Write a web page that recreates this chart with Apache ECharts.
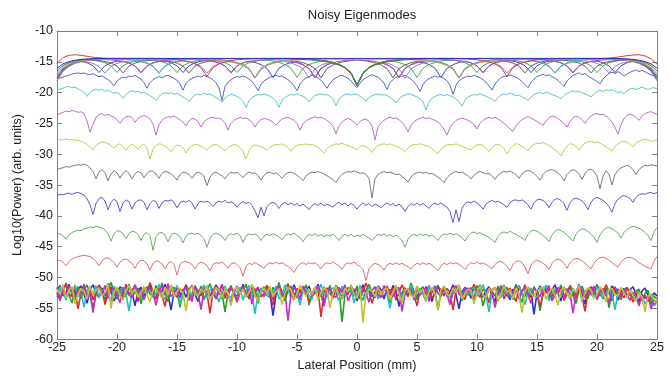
<!DOCTYPE html>
<html><head><meta charset="utf-8">
<script src="https://cdn.jsdelivr.net/npm/echarts@6/dist/echarts.min.js"></script>
<style>html,body{margin:0;padding:0;background:#fff}#c{width:669px;height:377px}</style>
</head><body><div id="c"></div>
<script>
// sampling positions (mm)
const xs=[-25,-24.75,-24.5,-24.25,-24,-23.75,-23.5,-23.25,-23,-22.75,
-22.5,-22.25,-22,-21.75,-21.5,-21.25,-21,-20.75,-20.5,-20.25,
-20,-19.75,-19.5,-19.25,-19,-18.75,-18.5,-18.25,-18,-17.75,
-17.5,-17.25,-17,-16.75,-16.5,-16.25,-16,-15.75,-15.5,-15.25,
-15,-14.75,-14.5,-14.25,-14,-13.75,-13.5,-13.25,-13,-12.75,
-12.5,-12.25,-12,-11.75,-11.5,-11.25,-11,-10.75,-10.5,-10.25,
-10,-9.75,-9.5,-9.25,-9,-8.75,-8.5,-8.25,-8,-7.75,
-7.5,-7.25,-7,-6.75,-6.5,-6.25,-6,-5.75,-5.5,-5.25,
-5,-4.75,-4.5,-4.25,-4,-3.75,-3.5,-3.25,-3,-2.75,
-2.5,-2.25,-2,-1.75,-1.5,-1.25,-1,-0.75,-0.5,-0.25,
0,0.25,0.5,0.75,1,1.25,1.5,1.75,2,2.25,
2.5,2.75,3,3.25,3.5,3.75,4,4.25,4.5,4.75,
5,5.25,5.5,5.75,6,6.25,6.5,6.75,7,7.25,
7.5,7.75,8,8.25,8.5,8.75,9,9.25,9.5,9.75,
10,10.25,10.5,10.75,11,11.25,11.5,11.75,12,12.25,
12.5,12.75,13,13.25,13.5,13.75,14,14.25,14.5,14.75,
15,15.25,15.5,15.75,16,16.25,16.5,16.75,17,17.25,
17.5,17.75,18,18.25,18.5,18.75,19,19.25,19.5,19.75,
20,20.25,20.5,20.75,21,21.25,21.5,21.75,22,22.25,
22.5,22.75,23,23.25,23.5,23.75,24,24.25,24.5,24.75,
25];
const xc=[-25,-24.5,-24,-23.5,-23,-22.5,-22,-21.5,-21,-20.5,
-20,-19.5,-19,-18.5,-18,-17.5,-17,-16.5,-16,-15.5,
-15,-14.5,-14,-13.5,-13,-12.5,-12,-11.5,-11,-10.5,
-10,-9.5,-9,-8.5,-8,-7.5,-7,-6.5,-6,-5.5,
-5,-4.5,-4,-3.5,-3,-2.5,-2,-1.5,-1,-0.5,
0,0.5,1,1.5,2,2.5,3,3.5,4,4.5,
5,5.5,6,6.5,7,7.5,8,8.5,9,9.5,
10,10.5,11,11.5,12,12.5,13,13.5,14,14.5,
15,15.5,16,16.5,17,17.5,18,18.5,19,19.5,
20,20.5,21,21.5,22,22.5,23,23.5,24,24.5,
25];

// upper group of modes (all near -14.5)
const topA=[-16.05,-15.33,-14.96,-14.74,-14.61,-14.53,-14.48,-14.45,-14.45,-14.45,
-14.45,-14.45,-14.45,-14.45,-14.45,-14.45,-14.45,-14.45,-14.45,-14.45,
-14.45,-14.45,-14.45,-14.45,-14.45,-14.45,-14.45,-14.45,-14.45,-14.45,
-14.45,-14.45,-14.45,-14.45,-14.45,-14.45,-14.45,-14.45,-14.45,-14.45,
-14.45,-14.45,-14.45,-14.45,-14.45,-14.45,-14.45,-14.45,-14.45,-14.45,
-14.45,-14.45,-14.45,-14.45,-14.45,-14.45,-14.45,-14.45,-14.45,-14.45,
-14.45,-14.45,-14.45,-14.45,-14.45,-14.45,-14.45,-14.45,-14.45,-14.45,
-14.45,-14.45,-14.45,-14.45,-14.45,-14.45,-14.45,-14.45,-14.45,-14.45,
-14.45,-14.45,-14.45,-14.45,-14.45,-14.45,-14.45,-14.45,-14.45,-14.45,
-14.45,-14.45,-14.45,-14.45,-14.48,-14.53,-14.61,-14.74,-14.96,-15.33,
-16.05];
const topB=[-16.5,-15.6,-15.14,-14.86,-14.7,-14.6,-14.54,-14.5,-14.5,-14.5,
-14.5,-14.5,-14.5,-14.5,-14.5,-14.5,-14.5,-14.5,-14.5,-14.5,
-14.5,-14.5,-14.5,-14.5,-14.5,-14.5,-14.5,-14.5,-14.5,-14.5,
-14.5,-14.5,-14.5,-14.5,-14.5,-14.5,-14.51,-14.52,-14.53,-14.55,
-14.58,-14.62,-14.68,-14.76,-14.86,-15.0,-15.2,-15.5,-16.0,-16.9,
-18.9,-16.9,-16.0,-15.5,-15.2,-15.0,-14.86,-14.76,-14.68,-14.62,
-14.58,-14.55,-14.53,-14.52,-14.51,-14.5,-14.5,-14.5,-14.5,-14.5,
-14.5,-14.5,-14.5,-14.5,-14.5,-14.5,-14.5,-14.5,-14.5,-14.5,
-14.5,-14.5,-14.5,-14.5,-14.5,-14.5,-14.5,-14.5,-14.5,-14.5,
-14.5,-14.5,-14.5,-14.5,-14.54,-14.6,-14.7,-14.86,-15.14,-15.6,
-16.5];
const topC=[-16.9,-15.87,-15.34,-15.01,-14.83,-14.72,-14.65,-14.6,-14.6,-14.6,
-14.6,-14.6,-14.6,-14.6,-14.6,-14.6,-14.6,-14.6,-14.6,-14.6,
-14.6,-14.6,-14.6,-14.6,-14.63,-14.66,-14.71,-14.78,-14.88,-15.02,
-15.25,-15.6,-16.2,-17.6,-16.2,-15.6,-15.25,-15.02,-14.88,-14.78,
-14.71,-14.66,-14.63,-14.6,-14.6,-14.6,-14.6,-14.6,-14.6,-14.6,
-14.6,-14.6,-14.6,-14.6,-14.6,-14.6,-14.6,-14.6,-14.63,-14.66,
-14.71,-14.78,-14.88,-15.02,-15.25,-15.6,-16.2,-17.6,-16.2,-15.6,
-15.25,-15.02,-14.88,-14.78,-14.71,-14.66,-14.63,-14.6,-14.6,-14.6,
-14.6,-14.6,-14.6,-14.6,-14.6,-14.6,-14.6,-14.6,-14.6,-14.6,
-14.6,-14.6,-14.6,-14.6,-14.65,-14.72,-14.83,-15.01,-15.34,-15.87,
-16.9];
const topD=[-15.3,-14.3,-13.95,-13.85,-13.95,-14.1,-14.25,-14.35,-14.42,-14.45,
-14.45,-14.45,-14.45,-14.45,-14.45,-14.45,-14.45,-14.48,-14.52,-14.58,
-14.67,-14.81,-15.03,-15.35,-15.95,-17.35,-15.95,-15.35,-15.03,-14.81,
-14.67,-14.58,-14.52,-14.48,-14.45,-14.45,-14.45,-14.45,-14.45,-14.45,
-14.47,-14.5,-14.55,-14.63,-14.74,-14.89,-15.11,-15.45,-15.95,-16.85,
-18.8,-16.85,-15.95,-15.45,-15.11,-14.89,-14.74,-14.63,-14.55,-14.5,
-14.47,-14.45,-14.45,-14.45,-14.45,-14.45,-14.45,-14.48,-14.52,-14.58,
-14.67,-14.81,-15.03,-15.35,-15.95,-17.35,-15.95,-15.35,-15.03,-14.81,
-14.67,-14.58,-14.52,-14.48,-14.45,-14.45,-14.45,-14.45,-14.45,-14.45,
-14.45,-14.45,-14.4,-14.3,-14.15,-14.0,-13.9,-13.85,-14.05,-14.5,
-15.4];
const topE=[-17.15,-15.98,-15.38,-15.02,-14.81,-14.68,-14.6,-14.55,-14.55,-14.55,
-14.55,-14.6,-14.65,-14.75,-14.9,-15.15,-15.65,-16.75,-15.65,-15.15,
-14.9,-14.75,-14.65,-14.6,-14.55,-14.55,-14.6,-14.66,-14.75,-14.88,
-15.1,-15.45,-16.05,-17.55,-16.05,-15.45,-15.1,-14.88,-14.75,-14.66,
-14.6,-14.58,-14.61,-14.67,-14.75,-14.88,-15.07,-15.4,-15.9,-16.75,
-18.75,-16.75,-15.9,-15.4,-15.07,-14.88,-14.75,-14.67,-14.61,-14.58,
-14.6,-14.66,-14.75,-14.88,-15.1,-15.45,-16.05,-17.55,-16.05,-15.45,
-15.1,-14.88,-14.75,-14.66,-14.6,-14.55,-14.55,-14.6,-14.65,-14.75,
-14.9,-15.15,-15.65,-16.75,-15.65,-15.15,-14.9,-14.75,-14.65,-14.6,
-14.55,-14.55,-14.55,-14.55,-14.6,-14.68,-14.81,-15.02,-15.38,-15.98,
-17.15];
const topF=[-17.4,-16.14,-15.5,-15.1,-14.88,-14.74,-14.66,-14.62,-14.65,-14.7,
-14.8,-14.95,-15.2,-15.7,-16.8,-15.7,-15.2,-14.95,-14.8,-14.7,
-14.65,-14.6,-14.6,-14.65,-14.7,-14.8,-14.95,-15.2,-15.7,-16.8,
-15.7,-15.2,-14.95,-14.8,-14.7,-14.65,-14.65,-14.71,-14.8,-14.93,
-15.15,-15.5,-16.1,-17.6,-16.1,-15.5,-15.15,-14.93,-14.8,-14.71,
-14.65,-14.71,-14.8,-14.93,-15.15,-15.5,-16.1,-17.6,-16.1,-15.5,
-15.15,-14.93,-14.8,-14.71,-14.65,-14.65,-14.7,-14.8,-14.95,-15.2,
-15.7,-16.8,-15.7,-15.2,-14.95,-14.8,-14.7,-14.65,-14.6,-14.6,
-14.65,-14.7,-14.8,-14.95,-15.2,-15.7,-16.8,-15.7,-15.2,-14.95,
-14.8,-14.7,-14.65,-14.62,-14.66,-14.74,-14.88,-15.1,-15.5,-16.14,
-17.4];
const topG=[-17.6,-16.25,-15.56,-15.14,-14.9,-14.75,-14.7,-14.8,-14.95,-15.2,
-15.7,-16.8,-15.7,-15.2,-14.95,-14.8,-14.7,-14.7,-14.8,-14.95,
-15.2,-15.7,-16.8,-15.7,-15.2,-14.95,-14.8,-14.71,-14.8,-14.93,
-15.15,-15.5,-16.1,-17.6,-16.1,-15.5,-15.15,-14.93,-14.8,-14.8,
-14.93,-15.15,-15.5,-16.1,-17.6,-16.1,-15.5,-15.15,-14.93,-14.8,
-14.71,-14.8,-14.93,-15.15,-15.5,-16.1,-17.6,-16.1,-15.5,-15.15,
-14.93,-14.8,-14.8,-14.93,-15.15,-15.5,-16.1,-17.6,-16.1,-15.5,
-15.15,-14.93,-14.8,-14.71,-14.8,-14.95,-15.2,-15.7,-16.8,-15.7,
-15.2,-14.95,-14.8,-14.7,-14.7,-14.8,-14.95,-15.2,-15.7,-16.8,
-15.7,-15.2,-14.95,-14.8,-14.7,-14.75,-14.9,-15.14,-15.56,-16.25,
-17.6];
const topH=[-17.75,-16.31,-15.57,-15.13,-14.87,-14.71,-14.75,-14.9,-15.15,-15.65,
-16.75,-15.65,-15.15,-14.9,-14.75,-14.65,-14.75,-14.9,-15.15,-15.65,
-16.75,-15.65,-15.15,-14.9,-14.75,-14.65,-14.75,-14.9,-15.15,-15.65,
-16.75,-15.65,-15.15,-14.9,-14.75,-14.75,-14.88,-15.1,-15.45,-16.05,
-17.55,-16.05,-15.45,-15.1,-14.88,-14.88,-15.07,-15.4,-15.9,-16.75,
-18.75,-16.75,-15.9,-15.4,-15.07,-14.88,-14.88,-15.1,-15.45,-16.05,
-17.55,-16.05,-15.45,-15.1,-14.88,-14.75,-14.75,-14.9,-15.15,-15.65,
-16.75,-15.65,-15.15,-14.9,-14.75,-14.65,-14.75,-14.9,-15.15,-15.65,
-16.75,-15.65,-15.15,-14.9,-14.75,-14.65,-14.75,-14.9,-15.15,-15.65,
-16.75,-15.65,-15.15,-14.9,-14.75,-14.71,-14.87,-15.13,-15.57,-16.31,
-17.75];
const topI=[-18.05,-16.52,-15.74,-15.26,-14.99,-15.0,-15.25,-15.75,-16.85,-15.75,
-15.25,-15.0,-14.85,-14.85,-15.0,-15.25,-15.75,-16.85,-15.75,-15.25,
-15.0,-14.85,-15.0,-15.25,-15.75,-16.85,-15.75,-15.25,-15.0,-14.98,
-15.2,-15.55,-16.15,-17.65,-16.15,-15.55,-15.2,-14.98,-14.98,-15.2,
-15.55,-16.15,-17.65,-16.15,-15.55,-15.2,-15.17,-15.5,-16.0,-16.85,
-18.85,-16.85,-16.0,-15.5,-15.17,-15.2,-15.55,-16.15,-17.65,-16.15,
-15.55,-15.2,-14.98,-14.98,-15.2,-15.55,-16.15,-17.65,-16.15,-15.55,
-15.2,-14.98,-15.0,-15.25,-15.75,-16.85,-15.75,-15.25,-15.0,-14.85,
-15.0,-15.25,-15.75,-16.85,-15.75,-15.25,-15.0,-14.85,-14.85,-15.0,
-15.25,-15.75,-16.85,-15.75,-15.25,-15.0,-14.99,-15.26,-15.74,-16.52,
-18.05];
const topJ=[-18.05,-16.48,-15.67,-15.18,-14.9,-15.15,-15.65,-16.75,-15.65,-15.15,
-14.9,-14.9,-15.15,-15.65,-16.75,-15.65,-15.15,-14.9,-14.9,-15.15,
-15.65,-16.75,-15.65,-15.15,-14.9,-14.75,-14.9,-15.15,-15.65,-16.75,
-15.65,-15.15,-14.9,-15.1,-15.45,-16.05,-17.55,-16.05,-15.45,-15.1,
-15.1,-15.45,-16.05,-17.55,-16.05,-15.45,-15.1,-15.4,-15.9,-16.75,
-18.75,-16.75,-15.9,-15.4,-15.1,-15.45,-16.05,-17.55,-16.05,-15.45,
-15.1,-15.1,-15.45,-16.05,-17.55,-16.05,-15.45,-15.1,-14.9,-15.15,
-15.65,-16.75,-15.65,-15.15,-14.9,-14.75,-14.9,-15.15,-15.65,-16.75,
-15.65,-15.15,-14.9,-14.9,-15.15,-15.65,-16.75,-15.65,-15.15,-14.9,
-14.9,-15.15,-15.65,-16.75,-15.65,-15.15,-14.9,-15.18,-15.67,-16.48,
-18.05];

// separated higher-order modes
const modeD=[-17.8,-17.6,-17.5,-17.3,-17.2,-17.0,-16.9,-16.8,-16.9,-16.8,
-17.0,-17.1,-16.9,-17.2,-17.4,-17.3,-17.6,-17.9,-18.3,-18.9,
-18.1,-17.7,-17.5,-17.6,-17.3,-17.4,-17.2,-17.5,-17.8,-18.4,
-19.3,-18.4,-17.9,-17.6,-17.4,-17.6,-17.3,-17.2,-17.4,-17.7,
-18.0,-18.6,-19.6,-18.5,-18.0,-17.7,-17.5,-17.3,-17.5,-17.2,
-17.4,-17.6,-17.9,-18.4,-19.2,-21.3,-19.0,-18.3,-17.9,-17.6,
-17.4,-17.5,-17.3,-17.5,-17.8,-18.2,-18.8,-19.7,-18.7,-18.1,
-17.8,-17.5,-17.4,-17.2,-17.4,-17.3,-17.6,-17.9,-18.3,-18.9,
-19.7,-18.6,-18.0,-17.6,-17.4,-17.2,-17.3,-17.6,-18.0,-18.6,
-19.3,-18.5,-17.9,-17.6,-17.3,-17.2,-17.4,-17.7,-18.1,-18.7,
-19.2,-18.5,-17.9,-17.6,-17.3,-17.1,-17.3,-17.5,-17.9,-18.5,
-19.5,-18.4,-17.9,-17.5,-17.3,-17.4,-17.2,-17.5,-17.8,-18.3,
-18.9,-19.8,-18.7,-18.1,-17.7,-17.5,-17.3,-17.5,-17.4,-17.7,
-18.1,-18.8,-20.3,-18.8,-18.1,-17.7,-17.5,-17.3,-17.4,-17.2,
-17.4,-17.6,-17.9,-18.3,-18.9,-19.6,-18.6,-18.0,-17.6,-17.3,
-17.4,-17.1,-17.3,-17.5,-17.8,-18.2,-18.7,-19.2,-18.3,-17.8,
-17.4,-17.2,-17.0,-17.3,-17.1,-17.4,-17.7,-18.0,-18.5,-19.0,
-18.1,-17.6,-17.2,-17.0,-16.8,-17.1,-16.9,-17.3,-17.6,-17.9,
-18.2,-18.6,-17.8,-17.3,-16.9,-16.7,-16.9,-16.6,-16.9,-17.3,
-17.0,-16.7,-16.5,-16.3,-16.6,-16.4,-16.6,-16.9,-17.1,-17.3,
-17.5];
const modeC=[-19.6,-19.4,-19.3,-19.1,-19.0,-19.2,-19.1,-19.4,-19.6,-19.9,
-20.6,-20.0,-19.6,-19.4,-19.6,-19.5,-19.8,-19.6,-19.9,-20.1,
-20.0,-20.3,-20.9,-20.3,-19.9,-19.7,-19.9,-19.8,-20.1,-19.9,
-20.2,-20.5,-20.8,-21.3,-20.6,-20.2,-20.0,-20.2,-20.0,-20.3,
-20.1,-20.4,-20.7,-21.0,-21.5,-20.8,-20.4,-20.2,-20.4,-20.1,
-20.3,-20.2,-20.5,-20.8,-21.1,-21.6,-20.9,-20.5,-20.3,-20.4,
-20.6,-20.9,-21.4,-22.4,-21.3,-20.8,-20.5,-20.3,-20.4,-20.2,
-20.4,-20.6,-20.9,-21.4,-22.4,-21.2,-20.8,-20.5,-20.3,-20.4,
-20.2,-20.4,-20.6,-20.9,-21.5,-20.9,-20.5,-20.3,-20.2,-20.4,
-20.3,-20.6,-21.0,-22.1,-21.0,-20.6,-20.3,-20.2,-20.4,-20.2,
-20.3,-20.6,-20.9,-21.4,-20.8,-20.5,-20.3,-20.2,-20.4,-20.3,
-20.5,-20.8,-21.1,-21.7,-21.0,-20.6,-20.4,-20.2,-20.3,-20.5,
-20.7,-21.0,-21.5,-22.8,-21.5,-20.9,-20.6,-20.4,-20.3,-20.5,
-20.3,-20.5,-20.7,-21.0,-21.5,-22.2,-21.2,-20.7,-20.5,-20.3,
-20.4,-20.2,-20.4,-20.6,-20.8,-21.1,-21.4,-20.8,-20.4,-20.2,
-20.3,-20.1,-20.3,-20.5,-20.4,-20.7,-20.9,-21.3,-20.7,-20.3,
-20.1,-20.0,-20.2,-19.9,-20.1,-20.3,-20.5,-20.7,-21.0,-20.5,
-20.1,-19.9,-19.7,-19.9,-19.8,-20.0,-20.2,-20.4,-20.7,-20.2,
-19.8,-19.6,-19.8,-19.5,-19.7,-19.5,-19.8,-20.0,-19.8,-20.2,
-19.7,-19.4,-19.3,-19.5,-19.3,-19.1,-19.3,-19.5,-19.3,-19.2,
-19.4];
const modeM=[-23.6,-23.4,-23.2,-23.0,-23.1,-22.9,-23.0,-23.2,-23.1,-23.4,
-24.6,-26.4,-25.2,-24.0,-23.6,-23.4,-23.7,-23.5,-23.8,-24.0,
-24.4,-25.0,-24.3,-23.9,-23.8,-24.1,-24.8,-24.2,-23.9,-23.7,
-23.9,-24.3,-25.1,-26.9,-25.2,-24.5,-24.1,-23.9,-24.0,-23.8,
-24.1,-24.4,-24.8,-25.4,-24.6,-24.2,-24.3,-24.7,-25.6,-24.7,
-24.3,-24.1,-24.0,-24.2,-24.1,-24.4,-24.9,-26.1,-25.0,-24.5,
-24.2,-24.0,-24.2,-24.1,-24.4,-24.8,-25.6,-24.8,-24.4,-24.2,
-24.3,-24.5,-24.8,-25.3,-24.7,-24.3,-24.1,-24.0,-24.2,-24.5,
-25.0,-26.1,-25.1,-24.6,-24.3,-24.1,-23.9,-24.1,-24.0,-24.2,
-24.5,-24.9,-25.5,-26.7,-25.4,-24.8,-24.4,-24.2,-24.4,-24.8,
-25.3,-24.7,-24.4,-24.3,-24.7,-25.4,-27.7,-25.6,-24.9,-24.5,
-24.2,-24.0,-24.2,-24.1,-24.4,-24.8,-25.4,-26.4,-25.3,-24.7,
-24.4,-24.2,-24.0,-24.2,-24.1,-24.3,-24.5,-24.8,-25.3,-25.9,
-26.9,-25.7,-25.0,-24.5,-24.3,-24.1,-24.3,-24.5,-24.8,-25.2,
-25.9,-25.0,-24.5,-24.2,-24.0,-24.2,-24.0,-24.3,-24.6,-25.0,
-25.4,-25.9,-26.3,-25.4,-24.8,-24.4,-24.1,-23.9,-24.1,-24.4,
-24.7,-25.0,-25.3,-24.6,-24.1,-23.8,-23.9,-24.2,-24.6,-25.0,
-25.6,-24.7,-24.1,-23.8,-24.0,-24.4,-25.0,-24.3,-23.8,-23.5,
-23.4,-23.6,-23.5,-23.8,-24.2,-24.8,-25.6,-26.7,-25.2,-24.2,
-23.7,-23.5,-23.7,-24.0,-24.5,-23.8,-23.4,-23.2,-23.1,-23.3,
-23.5];
const modeY=[-27.8,-27.6,-27.7,-27.5,-27.7,-27.6,-27.8,-27.7,-27.9,-28.1,
-28.4,-28.8,-29.3,-28.6,-28.2,-28.0,-28.1,-28.3,-28.6,-29.0,
-28.5,-28.3,-28.7,-29.4,-28.7,-28.4,-28.7,-29.2,-28.6,-28.4,
-29.0,-30.8,-29.2,-28.6,-28.3,-28.4,-28.7,-29.0,-29.6,-28.9,
-28.5,-28.6,-29.0,-29.8,-29.0,-28.6,-28.4,-28.5,-28.7,-29.0,
-29.3,-28.8,-28.5,-28.4,-28.7,-29.0,-29.5,-28.9,-28.6,-28.4,
-28.6,-28.9,-29.5,-30.8,-29.4,-28.8,-28.5,-28.6,-28.8,-29.0,
-29.4,-28.9,-28.6,-28.4,-28.5,-28.3,-28.6,-28.9,-29.5,-28.9,
-28.6,-28.4,-28.5,-28.3,-28.5,-28.4,-28.6,-28.9,-29.3,-29.8,
-29.1,-28.7,-28.5,-28.3,-28.4,-28.2,-28.4,-28.6,-28.8,-29.0,
-29.3,-28.8,-28.6,-28.8,-29.1,-29.7,-29.0,-28.6,-28.4,-28.3,
-28.5,-28.3,-28.5,-28.7,-28.9,-29.2,-29.6,-29.0,-28.6,-28.4,
-28.5,-28.3,-28.4,-28.6,-28.8,-29.1,-29.5,-29.9,-29.2,-28.8,
-28.5,-28.4,-28.5,-28.3,-28.5,-28.7,-28.9,-29.1,-29.3,-28.8,
-28.5,-28.4,-28.6,-29.0,-29.6,-28.9,-28.5,-28.4,-28.6,-29.1,
-29.9,-29.1,-28.6,-28.3,-28.4,-28.7,-29.0,-29.5,-28.8,-28.4,
-28.2,-28.3,-28.1,-28.3,-28.6,-28.9,-29.3,-29.7,-30.3,-29.3,
-28.7,-28.3,-28.4,-28.7,-29.3,-28.6,-28.2,-28.0,-27.9,-28.1,
-28.0,-28.2,-28.5,-28.8,-29.1,-29.5,-28.8,-28.3,-28.0,-27.9,
-28.1,-28.4,-28.8,-28.2,-27.9,-27.7,-27.6,-27.7,-27.9,-27.8,
-27.7];
const modeK=[-32.5,-32.3,-32.2,-32.0,-32.1,-31.9,-31.8,-31.7,-31.8,-31.6,
-31.8,-32.2,-32.8,-34.0,-32.9,-32.5,-33.0,-34.3,-33.2,-32.7,
-33.0,-33.9,-33.1,-32.7,-33.1,-34.0,-33.2,-32.8,-33.0,-33.8,
-33.1,-32.7,-32.8,-33.2,-33.9,-33.1,-32.8,-32.9,-33.2,-33.6,
-34.2,-33.3,-32.9,-33.0,-33.3,-33.9,-33.2,-32.9,-33.1,-33.6,
-35.1,-33.7,-33.1,-32.9,-33.2,-33.5,-34.0,-33.3,-32.9,-33.1,
-32.9,-33.3,-33.8,-33.2,-32.9,-33.1,-33.0,-33.5,-34.2,-33.4,
-33.0,-32.9,-33.2,-33.0,-33.4,-33.9,-33.3,-33.0,-32.9,-33.1,
-33.4,-33.8,-34.3,-33.5,-33.1,-32.9,-33.0,-32.8,-33.0,-33.2,
-33.5,-33.8,-34.1,-34.6,-33.8,-33.3,-33.0,-32.8,-32.9,-32.7,
-32.9,-33.1,-33.0,-33.3,-33.9,-37.1,-34.0,-33.3,-33.0,-32.8,
-33.0,-32.9,-33.1,-33.3,-33.2,-33.6,-34.0,-34.5,-33.7,-33.2,
-33.0,-32.9,-33.1,-32.9,-33.2,-33.1,-33.4,-33.7,-34.1,-34.6,
-33.8,-33.3,-33.0,-32.8,-33.0,-32.9,-33.2,-33.5,-34.0,-33.4,
-33.0,-32.8,-33.0,-33.2,-33.1,-33.5,-34.1,-33.4,-33.0,-32.8,
-32.9,-32.7,-33.0,-33.3,-33.9,-33.2,-32.8,-32.6,-32.8,-33.1,
-33.6,-34.2,-33.3,-32.8,-32.6,-32.5,-32.7,-33.0,-33.5,-34.3,
-33.3,-32.8,-32.5,-32.7,-33.2,-34.1,-33.1,-32.6,-32.4,-32.8,
-33.6,-35.6,-33.6,-32.7,-33.2,-35.0,-33.3,-32.6,-32.2,-32.0,
-31.8,-32.0,-32.5,-33.3,-32.5,-32.1,-31.8,-31.9,-31.7,-31.8,
-31.9];
const modeB=[-36.7,-36.5,-36.6,-36.4,-36.3,-36.5,-36.3,-36.2,-36.4,-36.6,
-37.2,-38.2,-39.8,-38.0,-37.2,-37.0,-37.6,-39.0,-37.8,-37.3,
-37.7,-39.3,-37.9,-37.4,-37.7,-38.9,-37.9,-37.5,-37.4,-37.8,
-39.0,-38.0,-37.5,-37.7,-38.8,-37.9,-37.5,-37.6,-37.4,-37.8,
-38.7,-37.9,-37.6,-37.8,-37.5,-37.9,-38.9,-38.0,-37.6,-37.8,
-37.6,-37.9,-38.5,-37.9,-37.6,-37.8,-37.5,-37.9,-37.7,-38.0,
-38.6,-38.0,-37.7,-38.0,-37.8,-38.3,-39.2,-40.3,-38.6,-40.0,
-38.5,-38.0,-37.8,-38.1,-38.8,-38.1,-37.8,-38.2,-37.9,-38.3,
-38.0,-38.4,-38.1,-38.5,-39.0,-38.3,-38.0,-38.3,-37.9,-38.4,
-38.1,-38.3,-38.6,-38.1,-37.8,-38.2,-37.9,-38.4,-38.0,-38.3,
-38.9,-38.3,-37.9,-38.3,-38.0,-38.5,-38.1,-38.3,-38.7,-38.2,
-37.9,-38.3,-38.0,-38.4,-38.1,-38.5,-39.3,-38.5,-38.0,-38.3,
-37.9,-38.3,-38.0,-38.4,-38.8,-38.2,-37.9,-38.2,-37.9,-38.3,
-38.6,-39.3,-41.1,-39.0,-40.9,-38.8,-38.0,-37.7,-37.9,-37.6,
-37.9,-38.3,-38.9,-38.1,-37.7,-37.5,-37.8,-37.6,-37.9,-38.2,
-38.6,-37.9,-37.5,-37.4,-37.6,-37.4,-37.7,-38.2,-38.9,-37.9,
-37.4,-37.3,-37.5,-37.9,-38.7,-37.8,-37.3,-37.2,-37.5,-38.0,
-39.1,-37.9,-37.3,-37.1,-37.3,-37.6,-38.1,-39.0,-37.8,-37.2,
-37.0,-37.2,-37.5,-37.9,-38.5,-39.4,-38.0,-37.3,-36.9,-36.7,
-36.9,-37.2,-37.8,-37.0,-36.6,-36.4,-36.5,-36.3,-36.2,-36.4,
-36.2];
const modeG=[-43.0,-42.9,-43.2,-43.8,-43.1,-42.7,-42.5,-42.3,-42.4,-42.1,
-42.0,-41.8,-41.9,-41.7,-41.8,-42.0,-42.3,-42.9,-44.1,-42.9,
-42.4,-42.5,-42.9,-43.7,-42.9,-42.5,-42.6,-43.0,-44.0,-43.0,
-42.7,-43.2,-45.6,-43.4,-42.8,-42.7,-43.1,-44.2,-43.2,-42.8,
-43.0,-43.4,-44.4,-43.3,-42.9,-42.8,-43.0,-42.8,-43.2,-43.7,
-45.1,-43.6,-43.0,-42.8,-43.0,-43.3,-44.0,-43.2,-42.9,-43.1,
-42.8,-43.2,-44.3,-43.3,-42.9,-43.1,-42.9,-43.3,-44.0,-43.3,
-43.0,-43.2,-42.9,-43.1,-43.4,-43.9,-43.2,-42.9,-43.1,-42.8,
-43.2,-43.5,-44.2,-43.4,-43.0,-43.2,-42.9,-43.3,-43.0,-43.4,
-43.1,-43.3,-43.0,-43.4,-44.0,-43.3,-43.0,-43.3,-43.0,-43.4,
-43.1,-43.3,-43.0,-43.3,-43.6,-44.0,-43.4,-43.0,-43.2,-42.9,
-43.3,-43.0,-43.4,-43.1,-43.5,-44.0,-45.1,-43.8,-43.2,-43.0,
-43.3,-42.9,-43.2,-43.0,-43.3,-43.1,-43.5,-44.0,-43.3,-42.9,
-43.1,-42.8,-43.1,-42.9,-43.2,-43.5,-44.1,-43.3,-42.8,-42.6,
-42.9,-42.7,-43.0,-43.2,-43.5,-43.9,-44.3,-43.3,-42.8,-42.6,
-42.8,-42.5,-42.8,-43.0,-43.3,-43.6,-44.0,-43.0,-42.5,-42.3,
-42.5,-42.8,-43.2,-43.6,-44.2,-43.1,-42.5,-42.2,-42.4,-42.7,
-43.1,-43.6,-44.1,-43.0,-42.4,-42.1,-42.2,-42.5,-43.0,-43.5,
-44.3,-43.1,-42.4,-42.0,-41.9,-42.1,-42.4,-42.8,-43.6,-42.7,
-42.2,-41.9,-41.7,-41.8,-42.0,-42.3,-42.7,-43.2,-44.0,-42.6,
-41.9];
const modeR=[-47.3,-47.2,-47.5,-48.1,-47.4,-47.0,-46.8,-46.6,-46.5,-46.4,
-46.5,-46.6,-46.9,-47.4,-48.1,-47.3,-46.9,-46.8,-47.1,-47.6,
-48.3,-47.5,-47.1,-47.0,-47.3,-47.8,-48.5,-47.6,-47.2,-47.3,
-47.8,-48.8,-47.7,-47.3,-47.4,-47.8,-48.6,-47.7,-47.4,-47.9,
-49.6,-47.9,-47.5,-47.4,-47.6,-47.9,-48.6,-47.8,-47.5,-47.7,
-48.1,-48.9,-47.9,-47.6,-47.7,-47.5,-47.9,-48.5,-47.8,-47.6,
-47.9,-48.4,-49.8,-48.2,-47.7,-47.9,-47.6,-47.9,-48.2,-48.5,
-47.9,-47.6,-47.8,-47.5,-47.8,-47.6,-47.9,-48.2,-48.6,-49.2,
-48.3,-47.8,-47.6,-47.9,-47.6,-47.8,-47.6,-48.0,-48.6,-47.9,
-47.6,-47.8,-47.5,-47.8,-48.1,-48.7,-47.9,-47.6,-47.8,-47.5,
-47.9,-48.2,-48.7,-50.5,-48.6,-48.0,-47.7,-47.9,-48.2,-48.8,
-48.0,-47.7,-47.9,-47.6,-47.9,-47.7,-48.0,-48.3,-48.6,-48.0,
-47.7,-47.9,-47.6,-47.9,-47.7,-48.0,-48.4,-48.9,-48.1,-47.7,
-47.9,-47.6,-47.8,-47.6,-47.9,-48.2,-48.7,-48.0,-47.6,-47.8,
-47.5,-47.8,-47.6,-47.9,-48.2,-48.6,-47.9,-47.5,-47.4,-47.7,
-48.2,-48.9,-47.9,-47.4,-47.3,-47.6,-48.3,-49.4,-48.0,-47.4,
-47.2,-47.4,-47.7,-48.1,-48.7,-47.7,-47.2,-47.0,-47.2,-47.7,
-48.5,-47.6,-47.1,-46.9,-47.0,-47.3,-47.7,-48.1,-48.6,-47.7,
-47.1,-46.8,-46.7,-46.9,-47.2,-47.6,-48.0,-48.3,-47.5,-47.0,
-46.8,-46.7,-46.9,-47.2,-47.6,-47.9,-48.2,-48.4,-48.6,-47.4,
-46.6];

// noise floor traces
const floor1=[-52.1,-51.3,-53.0,-52.4,-51.1,-52.8,-53.6,-51.9,-51.4,-52.7,
-54.2,-52.0,-51.2,-52.5,-53.3,-51.7,-52.9,-51.0,-52.2,-53.8,
-52.6,-51.5,-52.0,-53.1,-51.3,-52.4,-54.6,-52.2,-51.6,-53.0,
-52.1,-51.2,-52.8,-53.5,-51.8,-52.3,-51.1,-52.6,-55.3,-52.4,
-51.5,-52.9,-51.9,-53.2,-52.0,-51.3,-52.7,-53.9,-51.6,-52.2,
-51.4,-53.0,-52.5,-51.2,-52.1,-53.4,-51.7,-52.8,-54.1,-52.3,
-51.4,-52.6,-51.1,-53.1,-52.0,-51.6,-52.9,-53.7,-51.9,-52.4,
-51.3,-52.7,-56.2,-52.8,-51.5,-52.2,-53.3,-51.8,-52.6,-51.2,
-52.4,-53.6,-51.7,-52.1,-51.4,-53.0,-52.5,-51.1,-52.8,-54.4,
-52.0,-51.6,-52.9,-51.3,-52.3,-53.2,-51.9,-52.7,-51.5,-52.1,
-53.8,-52.3,-51.2,-52.6,-51.8,-53.1,-52.4,-51.4,-52.0,-53.5,
-51.6,-52.8,-51.3,-52.2,-54.7,-52.5,-51.7,-52.9,-51.1,-52.4,
-53.3,-51.8,-52.6,-51.5,-52.1,-53.9,-52.2,-51.3,-52.7,-51.9,
-53.0,-52.4,-51.2,-52.8,-55.1,-52.3,-51.6,-52.0,-53.4,-51.4,
-52.6,-51.8,-53.2,-52.1,-51.5,-52.9,-54.0,-51.7,-52.3,-51.2,
-52.7,-53.6,-51.9,-52.4,-51.3,-52.8,-53.1,-51.6,-52.2,-56.0,
-52.5,-51.4,-52.9,-51.8,-53.3,-52.0,-51.2,-52.6,-53.8,-51.7,
-52.3,-51.5,-53.0,-52.4,-51.1,-52.7,-54.3,-52.1,-51.6,-52.8,
-51.3,-52.2,-53.5,-51.9,-52.6,-51.4,-52.0,-53.7,-52.3,-51.8,
-53.1,-52.0,-51.5,-52.7,-54.0,-52.2,-51.7,-52.9,-53.4,-52.5,
-53.0];
const floor2=[-53.2,-51.8,-52.5,-50.9,-52.9,-54.1,-52.2,-51.5,-53.4,-52.0,
-51.2,-52.8,-55.0,-52.6,-51.4,-52.3,-53.7,-51.9,-50.8,-52.4,
-53.5,-52.1,-51.6,-52.9,-51.1,-53.2,-52.4,-51.7,-54.3,-52.2,
-51.5,-52.7,-53.1,-51.3,-52.5,-50.9,-52.8,-53.9,-52.0,-51.6,
-52.3,-54.8,-52.6,-51.2,-52.1,-53.3,-51.8,-52.9,-51.4,-53.6,
-52.2,-51.0,-52.7,-53.4,-51.9,-52.4,-55.6,-52.5,-51.3,-52.8,
-53.0,-51.7,-52.2,-51.1,-53.5,-52.6,-51.8,-54.2,-52.3,-51.5,
-52.9,-53.2,-51.6,-52.4,-50.8,-52.7,-53.8,-52.1,-51.4,-52.6,
-53.3,-51.9,-52.5,-51.2,-54.5,-52.8,-51.7,-52.2,-53.1,-51.5,
-52.6,-51.3,-53.4,-52.0,-51.8,-57.2,-52.7,-51.6,-52.3,-53.0,
-51.4,-52.9,-53.7,-52.2,-51.1,-52.5,-53.3,-51.9,-52.8,-51.5,
-52.1,-54.1,-52.6,-51.3,-52.4,-53.0,-51.7,-52.9,-50.9,-52.3,
-53.6,-52.0,-51.5,-52.7,-53.4,-51.8,-52.2,-55.2,-52.5,-51.4,
-52.8,-53.1,-51.6,-52.3,-51.2,-53.8,-52.4,-51.9,-52.6,-53.5,
-51.3,-52.0,-54.6,-52.7,-51.7,-52.2,-53.0,-51.4,-52.9,-52.1,
-51.6,-53.3,-52.5,-51.1,-52.8,-54.0,-52.2,-51.8,-53.2,-51.5,
-52.4,-55.4,-52.6,-51.3,-52.0,-53.7,-51.9,-52.7,-51.2,-53.1,
-52.3,-51.6,-52.9,-54.2,-52.1,-51.4,-52.6,-53.4,-51.8,-52.5,
-51.1,-53.0,-52.3,-51.7,-54.9,-52.4,-51.5,-52.8,-53.6,-52.0,
-51.6,-52.9,-53.3,-52.2,-51.9,-53.8,-52.6,-52.1,-54.4,-53.0,
-53.5];
const floor3=[-51.6,-53.4,-52.2,-51.0,-52.7,-53.1,-51.8,-55.1,-52.5,-51.3,
-52.9,-51.9,-53.6,-52.3,-51.2,-52.0,-54.4,-52.6,-51.5,-53.0,
-51.7,-52.4,-53.3,-51.1,-52.8,-52.0,-51.4,-53.9,-52.2,-51.8,
-52.6,-50.8,-52.3,-53.5,-51.6,-52.9,-54.7,-52.1,-51.3,-52.5,
-53.2,-51.9,-52.4,-51.2,-53.7,-52.7,-51.5,-52.1,-53.0,-51.8,
-52.6,-55.8,-52.3,-51.4,-52.8,-51.1,-53.4,-52.0,-51.7,-52.5,
-54.0,-52.2,-51.6,-52.9,-53.3,-51.2,-52.4,-51.9,-53.1,-52.6,
-51.3,-52.7,-54.5,-52.1,-51.5,-53.0,-52.3,-51.0,-52.8,-53.6,
-51.8,-52.5,-51.4,-52.2,-53.8,-52.9,-51.6,-52.0,-56.4,-52.4,
-51.7,-52.6,-53.2,-51.3,-52.1,-53.5,-51.9,-52.7,-51.2,-52.8,
-53.0,-51.5,-52.4,-50.9,-52.2,-54.2,-52.6,-51.8,-53.3,-52.0,
-51.4,-52.9,-51.7,-53.7,-52.5,-51.2,-52.3,-53.1,-51.6,-52.8,
-54.6,-52.2,-51.9,-52.6,-51.3,-53.4,-52.7,-51.5,-52.0,-53.0,
-51.8,-52.4,-55.3,-52.1,-51.4,-52.9,-53.6,-51.7,-52.3,-51.1,
-52.6,-53.2,-51.9,-52.5,-54.1,-52.0,-51.6,-52.8,-51.3,-53.5,
-52.2,-51.7,-52.9,-53.9,-51.5,-52.4,-51.2,-52.7,-53.3,-51.8,
-52.3,-54.8,-52.6,-51.4,-52.1,-53.0,-51.9,-52.5,-51.6,-53.7,
-52.8,-51.3,-52.2,-53.4,-51.7,-52.9,-55.5,-52.4,-51.5,-52.0,
-53.1,-51.8,-52.6,-51.2,-52.3,-53.8,-52.1,-51.9,-52.7,-53.3,
-51.6,-52.5,-54.0,-52.8,-52.2,-53.6,-52.9,-53.9,-53.2,-54.5,
-53.8];
const floor4=[-52.9,-51.5,-52.3,-53.7,-51.9,-52.6,-51.2,-53.1,-52.4,-54.8,
-52.1,-51.6,-52.8,-51.3,-53.3,-52.0,-51.8,-52.5,-53.9,-51.4,
-52.2,-53.0,-51.7,-52.7,-55.4,-52.4,-51.2,-52.9,-53.5,-51.6,
-52.3,-51.9,-53.2,-52.6,-51.1,-52.8,-53.6,-51.8,-52.0,-52.7,
-51.3,-54.3,-52.5,-51.7,-52.2,-53.1,-51.5,-52.9,-52.3,-51.2,
-53.4,-52.0,-51.8,-52.6,-54.0,-52.2,-51.4,-52.8,-53.3,-51.9,
-52.4,-51.6,-53.7,-52.1,-51.3,-52.7,-55.9,-52.5,-51.7,-52.3,
-53.0,-51.9,-52.6,-51.4,-53.5,-52.8,-51.2,-52.0,-53.2,-51.6,
-52.4,-54.5,-52.2,-51.8,-52.9,-53.6,-51.5,-52.3,-51.1,-52.7,
-53.1,-52.0,-51.7,-52.5,-53.8,-51.4,-52.8,-52.2,-51.9,-54.1,
-52.6,-51.3,-52.9,-53.3,-51.8,-52.1,-51.5,-53.5,-52.4,-51.7,
-52.7,-55.0,-52.3,-51.6,-52.0,-53.2,-51.9,-52.5,-51.2,-53.7,
-52.2,-51.8,-52.8,-53.9,-51.5,-52.4,-51.3,-52.6,-53.1,-51.9,
-52.3,-54.2,-52.7,-51.4,-52.1,-53.4,-51.7,-52.9,-52.0,-51.6,
-53.0,-52.5,-51.2,-52.8,-55.6,-52.2,-51.8,-52.4,-53.3,-51.5,
-52.7,-51.9,-53.6,-52.1,-51.4,-52.6,-54.4,-52.3,-51.7,-52.9,
-53.2,-51.6,-52.2,-51.3,-53.8,-52.5,-51.9,-52.7,-53.0,-51.5,
-52.4,-53.5,-51.8,-52.6,-51.2,-54.0,-52.3,-51.7,-52.8,-53.1,
-51.6,-52.1,-53.4,-52.5,-51.9,-52.7,-55.2,-52.4,-51.8,-52.2,
-53.3,-52.0,-52.6,-53.7,-52.3,-52.9,-54.3,-53.5,-52.8,-54.6,
-54.1];
const floor5=[-52.4,-53.8,-51.7,-52.9,-51.4,-52.2,-53.5,-51.9,-52.6,-51.1,
-53.0,-52.3,-55.7,-52.5,-51.6,-52.8,-51.3,-53.4,-52.1,-51.8,
-52.7,-54.1,-52.0,-51.5,-52.9,-53.2,-51.2,-52.4,-51.9,-53.6,
-52.2,-51.7,-52.6,-54.5,-52.3,-51.4,-52.8,-51.0,-53.1,-52.5,
-51.8,-53.3,-52.1,-51.6,-52.7,-53.9,-51.3,-52.4,-55.2,-52.0,
-51.5,-52.9,-51.9,-53.5,-52.3,-51.2,-52.6,-53.0,-51.7,-52.2,
-53.7,-52.5,-51.4,-52.8,-51.8,-54.3,-52.1,-51.6,-52.7,-53.1,
-51.9,-52.3,-53.6,-52.0,-51.3,-52.9,-52.4,-57.0,-52.6,-51.7,
-52.2,-53.4,-51.5,-52.8,-51.9,-53.0,-52.1,-51.4,-52.5,-54.7,
-52.3,-51.8,-52.9,-53.2,-51.6,-52.4,-51.2,-53.8,-52.7,-51.9,
-52.0,-53.5,-51.7,-52.6,-54.0,-52.2,-51.5,-52.8,-53.3,-51.3,
-52.5,-51.9,-53.1,-52.3,-51.6,-55.5,-52.7,-51.8,-52.1,-53.6,
-51.4,-52.9,-52.2,-51.7,-53.9,-52.4,-51.5,-52.6,-53.0,-51.9,
-52.8,-54.4,-52.0,-51.3,-52.7,-53.2,-51.8,-52.3,-51.6,-53.7,
-52.5,-51.2,-52.9,-53.4,-51.7,-52.1,-54.9,-52.6,-51.5,-52.4,
-53.0,-51.9,-52.7,-51.4,-53.5,-52.2,-51.8,-52.8,-54.2,-51.6,
-52.3,-53.1,-51.7,-52.5,-51.3,-53.8,-52.9,-51.6,-52.2,-53.4,
-51.8,-52.6,-55.8,-52.4,-51.5,-52.0,-53.3,-51.9,-52.7,-51.4,
-53.6,-52.3,-51.8,-52.9,-54.1,-52.1,-51.6,-52.5,-53.2,-51.9,
-52.8,-53.7,-52.4,-53.1,-54.6,-52.7,-53.4,-52.9,-55.1,-53.6,
-54.0];
const floor6=[-51.9,-52.6,-51.2,-53.3,-52.0,-51.5,-54.2,-52.7,-51.8,-52.3,
-53.5,-51.4,-52.8,-52.1,-51.7,-53.0,-52.5,-51.1,-55.0,-52.4,
-51.6,-52.9,-53.7,-52.2,-51.3,-52.6,-51.9,-53.2,-52.4,-51.5,
-52.8,-54.0,-52.1,-51.8,-52.5,-53.4,-51.6,-52.9,-51.2,-53.1,
-52.3,-51.7,-52.6,-55.4,-52.2,-51.4,-52.7,-53.0,-51.9,-52.4,
-51.3,-53.6,-52.8,-51.6,-52.1,-53.3,-51.8,-52.5,-54.6,-52.0,
-51.5,-52.7,-51.9,-53.2,-52.4,-51.1,-52.9,-53.8,-52.2,-51.7,
-52.6,-51.4,-53.1,-52.3,-51.8,-54.4,-52.5,-51.6,-52.0,-53.5,
-52.7,-51.3,-52.2,-53.0,-51.9,-52.8,-51.5,-53.7,-52.4,-51.7,
-52.1,-54.9,-52.6,-51.4,-52.9,-53.3,-51.8,-52.3,-51.2,-52.7,
-53.4,-51.6,-57.3,-52.5,-51.9,-52.2,-53.1,-51.5,-52.8,-52.0,
-51.7,-53.6,-52.4,-51.3,-52.6,-54.1,-52.1,-51.8,-52.9,-53.2,
-51.4,-52.5,-51.9,-53.8,-52.3,-51.6,-52.7,-55.3,-52.0,-51.5,
-52.8,-53.0,-51.7,-52.4,-51.2,-53.5,-52.6,-51.9,-52.1,-54.3,
-52.5,-51.4,-52.9,-53.3,-51.8,-52.2,-51.6,-53.9,-52.7,-51.3,
-52.4,-52.0,-53.4,-51.7,-52.8,-55.7,-52.3,-51.5,-52.6,-53.1,
-51.9,-52.2,-51.4,-53.6,-52.5,-51.8,-52.9,-54.5,-52.1,-51.6,
-52.7,-53.2,-51.9,-52.4,-51.3,-53.7,-52.6,-51.7,-52.0,-53.4,
-52.8,-51.5,-52.3,-54.0,-52.0,-51.8,-52.7,-53.0,-51.6,-52.5,
-53.3,-52.1,-52.8,-53.9,-52.5,-53.2,-55.6,-53.0,-52.7,-53.5,
-54.2];

const FONT='"Liberation Sans", Arial, sans-serif';
function mk(xArr,yArr,color,z,w){
  const n=Math.min(xArr.length,yArr.length);
  const d=[];for(let i=0;i<n;i++)d.push([xArr[i],yArr[i]]);
  return {type:'line',data:d,symbol:'none',showSymbol:false,silent:true,animation:false,
    lineStyle:{width:w||1,color:color},itemStyle:{color:color},z:z,emphasis:{disabled:true}};
}
const series=[
  mk(xs,floor1,'#2b2be0',2,1.6),mk(xs,floor2,'#22a022',2,1.6),mk(xs,floor3,'#e02a2a',2,1.6),
  mk(xs,floor4,'#22c0c0',2,1.6),mk(xs,floor5,'#c42cc4',2,1.6),mk(xs,floor6,'#c0c030',2,1.6),
  mk(xs,modeR,'#dc7070',3),mk(xs,modeG,'#6aae6a',3),mk(xs,modeB,'#5a5ad2',3),
  mk(xs,modeK,'#7c7c7c',3),mk(xs,modeY,'#caca5a',3),mk(xs,modeM,'#c46ccc',3),
  mk(xs,modeC,'#5ccaca',3),mk(xs,modeD,'#6464c8',3),
  mk(xc,topJ,'#4646c8',4),mk(xc,topI,'#9484d8',4),mk(xc,topH,'#4ca84c',4),
  mk(xc,topG,'#606060',4),mk(xc,topF,'#c04cc0',4),mk(xc,topE,'#3cbcbc',4),
  mk(xc,topC,'#d8a060',4),mk(xc,topD,'#e03c3c',4),mk(xc,topB,'#2e8b2e',4),
  mk(xc,topA,'#2d2dd8',5)
];
const axCol='#808080';
const baseX={type:'value',min:-25,max:25,interval:5,splitLine:{show:false},
  axisLine:{show:true,onZero:false,lineStyle:{color:axCol,width:1}},
  axisTick:{show:true,inside:true,length:5,lineStyle:{color:axCol}}};
const baseY={type:'value',min:-60,max:-10,interval:5,splitLine:{show:false},
  axisLine:{show:true,onZero:false,lineStyle:{color:axCol,width:1}},
  axisTick:{show:true,inside:true,length:5,lineStyle:{color:axCol}}};
const option={
  animation:false,
  backgroundColor:'#ffffff',
  title:{text:'Noisy Eigenmodes',left:357,top:4,textAlign:'center',
    textStyle:{fontSize:13,fontWeight:'normal',color:'#222',fontFamily:FONT}},
  grid:{left:57,right:12,top:31,bottom:29,containLabel:false},
  xAxis:[
    Object.assign({},baseX,{position:'bottom',name:'Lateral Position (mm)',nameLocation:'middle',nameGap:16,
      nameTextStyle:{fontSize:12.5,color:'#222',fontFamily:FONT},
      axisLabel:{show:true,color:'#222',fontSize:12.5,margin:2,fontFamily:FONT}}),
    Object.assign({},baseX,{position:'top',axisLabel:{show:false}})
  ],
  yAxis:[
    Object.assign({},baseY,{position:'left',name:'Log10(Power) (arb. units)',nameLocation:'middle',nameGap:33,
      nameTextStyle:{fontSize:12.5,color:'#222',fontFamily:FONT},
      axisLabel:{show:true,color:'#222',fontSize:12.5,margin:4,fontFamily:FONT}}),
    Object.assign({},baseY,{position:'right',axisLabel:{show:false}})
  ],
  series:series
};
const chart=echarts.init(document.getElementById('c'),null,{renderer:'canvas'});
chart.setOption(option);
</script></body></html>
